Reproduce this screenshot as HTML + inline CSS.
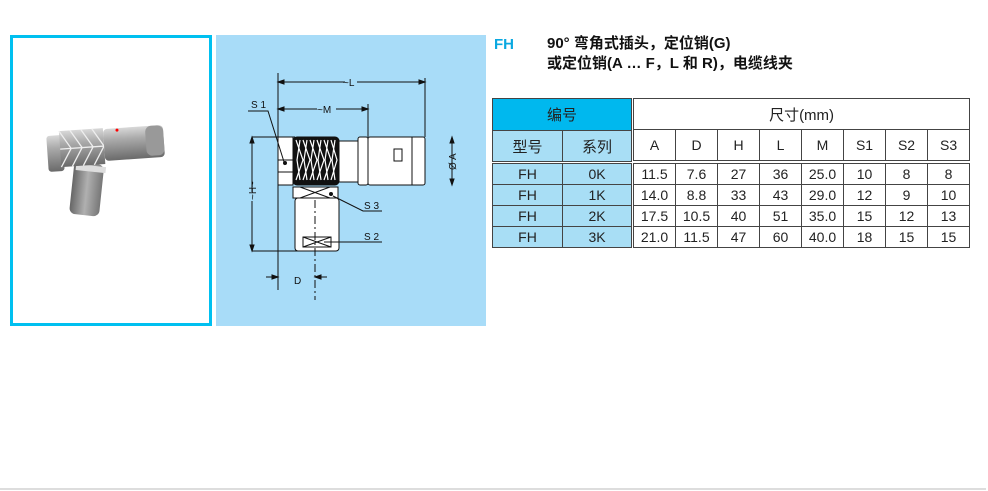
<!DOCTYPE html>
<html><head><meta charset="utf-8"><style>
body{margin:0;width:988px;height:491px;background:#fff;position:relative;overflow:hidden;font-family:"Liberation Sans","Noto Sans CJK SC",sans-serif}
.a{position:absolute}
table{border-collapse:collapse;position:absolute;table-layout:fixed}
td{padding:0;text-align:center;font-size:14px;color:#222;border:1px solid #444}
</style></head><body>
<div class="a" style="left:10px;top:35px;width:196px;height:285px;border:3px solid #00c0f0"></div>
<svg class="a" style="left:40px;top:120px" width="130" height="105" viewBox="0 0 130 105">
<defs><linearGradient id="g" x1="0" y1="0" x2="0" y2="1"><stop offset="0" stop-color="#d8d8d8"/><stop offset=".35" stop-color="#aaa"/><stop offset="1" stop-color="#6a6a6a"/></linearGradient>
<linearGradient id="g2" x1="0" y1="0" x2="1" y2="0"><stop offset="0" stop-color="#666"/><stop offset=".5" stop-color="#b0b0b0"/><stop offset="1" stop-color="#777"/></linearGradient></defs>
<g transform="rotate(-4 65 25)">
<rect x="30" y="42" width="30" height="52" rx="6" fill="url(#g2)" transform="rotate(10 45 60)"/>
<rect x="32" y="44" width="30" height="6" fill="#ddd" transform="rotate(10 45 60)"/>
<rect x="7" y="12" width="16" height="36" rx="3" fill="url(#g)"/>
<rect x="20" y="8" width="44" height="36" fill="url(#g)"/>
<path d="M20 8l11 18-11 18M31 8l11 18-11 18M42 8l11 18-11 18M53 8l11 18-11 18M20 26h44" stroke="#eee" fill="none" stroke-width="1.3"/>
<rect x="64" y="9" width="60" height="32" rx="4" fill="url(#g)"/>
<rect x="106" y="9" width="18" height="30" rx="6" fill="#999"/>
<circle cx="78" cy="11" r="1.5" fill="red"/>
</g></svg>
<div class="a" style="left:216px;top:35px;width:270px;height:291px;background:#a8dcf8"></div>
<svg class="a" style="left:216px;top:35px" width="270" height="291" viewBox="216 35 270 291" font-family="Liberation Sans" font-size="10" fill="none" stroke="#111" stroke-width="1">
<path d="M278 73V290M425 78V137M368 104V137M452 137V185M252 137H295M252 251H300"/>
<path d="M278 82H345M357 82H425M278 109H317M336 109H368M452 137V162M452 172V185M252 137V192M252 201V251"/>
<path d="M278 82l6-2v4zM425 82l-6-2v4zM278 109l6-2v4zM368 109l-6-2v4zM452 137l-2 6h4zM452 185l-2-6h4zM252 137l-2 6h4zM252 251l-2-6h4z" fill="#111"/>
<path d="M266 277H278M278 277l-6-2v4zM327 277H315M315 277l6-2v4z" fill="#111"/>
<rect x="278" y="137" width="15" height="48" fill="#fff"/><path d="M278 160H293M278 172H293"/>
<rect x="293" y="137" width="46" height="48" rx="4" fill="#111"/>
<path d="M296 140l7 20-7 20M303 140l7 20-7 20M310 140l7 20-7 20M317 140l7 20-7 20M324 140l7 20-7 20M331 140l6 20-6 20M300 140l-3 20 3 20M307 140l-3 20 3 20M314 140l-3 20 3 20M321 140l-3 20 3 20M328 140l-3 20 3 20M335 140l-3 20 3 20" stroke="#fff" stroke-width="1.2"/>
<rect x="339" y="141" width="19" height="41" fill="#fff"/>
<rect x="358" y="137" width="10" height="48" rx="2" fill="#fff"/>
<rect x="368" y="137" width="57" height="48" rx="2" fill="#fff"/>
<path d="M412 137V185"/><rect x="394" y="149" width="8" height="12"/>
<rect x="293" y="187" width="45" height="11" fill="#fff"/><path d="M300 187l30 11M300 198l30-11"/>
<rect x="295" y="198" width="44" height="53" rx="3" fill="#fff"/>
<rect x="303" y="237" width="28" height="10" fill="#fff"/><path d="M303 237l28 10M303 247l28-10"/>
<path d="M315 200V300" stroke-dasharray="8 3 2 3"/>
<path d="M248 111H268L285 165M333 196L363 211H382M324 242H382"/>
<circle cx="285" cy="163" r="1.5" fill="#111"/><circle cx="331" cy="194" r="1.5" fill="#111"/>
<g fill="#111" stroke="none">
<text x="251" y="108">S 1</text><text x="364" y="209">S 3</text><text x="364" y="240">S 2</text>
<text x="294" y="284">D</text><text x="343" y="86">~L</text><text x="317" y="113">~M</text>
<text transform="translate(456,170) rotate(-90)">Ø A</text>
<text transform="translate(256,200) rotate(-90)">~H~</text></g>
</svg>
<div class="a" style="left:494px;top:36px;color:#0aa8e0;font-size:15px;font-weight:bold">FH</div>
<div class="a" style="left:547px;top:34px;font-size:15px;font-weight:bold;line-height:20px;color:#111">90° 弯角式插头，定位销(G)<br>或定位销(A … F，L 和 R)，电缆线夹</div>
<table style="left:492px;top:98px;width:139px">
<colgroup><col style="width:70px"><col style="width:69px"></colgroup>
<tr><td colspan="2" style="background:#00b8ee;height:31px;font-size:15px">编号</td></tr>
<tr style="background:#a8def5;height:31px"><td style="font-size:15px">型号</td><td style="font-size:15px">系列</td></tr>
</table>
<table style="left:492px;top:163px;width:139px;background:#a8def5">
<colgroup><col style="width:70px"><col style="width:69px"></colgroup>
<tr style="height:21px"><td>FH</td><td>0K</td></tr>
<tr style="height:21px"><td>FH</td><td>1K</td></tr>
<tr style="height:21px"><td>FH</td><td>2K</td></tr>
<tr style="height:21px"><td>FH</td><td>3K</td></tr>
</table>
<table style="left:633px;top:98px;width:336px">
<colgroup><col style="width:42px"><col style="width:42px"><col style="width:42px"><col style="width:42px"><col style="width:42px"><col style="width:42px"><col style="width:42px"><col style="width:42px"></colgroup>
<tr style="height:31px"><td colspan="8" style="font-size:15px">尺寸(mm)</td></tr>
<tr style="height:31px"><td>A</td><td>D</td><td>H</td><td>L</td><td>M</td><td>S1</td><td>S2</td><td>S3</td></tr>
</table>
<table style="left:633px;top:163px;width:336px">
<colgroup><col style="width:42px"><col style="width:42px"><col style="width:42px"><col style="width:42px"><col style="width:42px"><col style="width:42px"><col style="width:42px"><col style="width:42px"></colgroup>
<tr style="height:21px"><td>11.5</td><td>7.6</td><td>27</td><td>36</td><td>25.0</td><td>10</td><td>8</td><td>8</td></tr>
<tr style="height:21px"><td>14.0</td><td>8.8</td><td>33</td><td>43</td><td>29.0</td><td>12</td><td>9</td><td>10</td></tr>
<tr style="height:21px"><td>17.5</td><td>10.5</td><td>40</td><td>51</td><td>35.0</td><td>15</td><td>12</td><td>13</td></tr>
<tr style="height:21px"><td>21.0</td><td>11.5</td><td>47</td><td>60</td><td>40.0</td><td>18</td><td>15</td><td>15</td></tr>
</table>
<div class="a" style="left:0;top:488px;width:986px;height:2px;background:#ddd"></div>
</body></html>
